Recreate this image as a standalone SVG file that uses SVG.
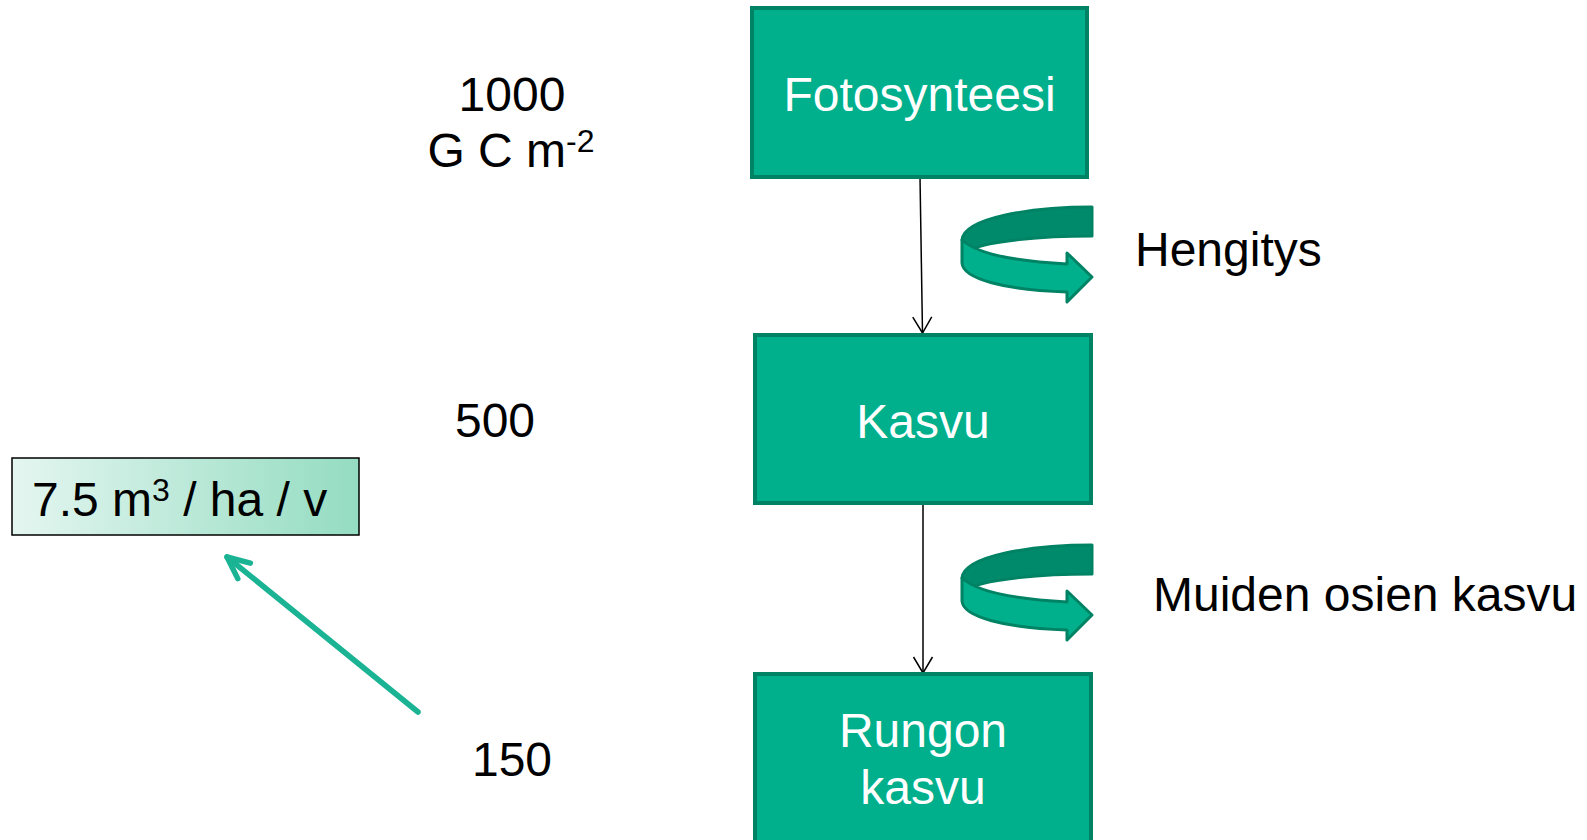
<svg xmlns="http://www.w3.org/2000/svg" width="1587" height="840" viewBox="0 0 1587 840">
<style>
.box{fill:#00b08c;stroke:#008264;stroke-width:4}
.wt{font-family:"Liberation Sans",Arial,sans-serif;font-size:48px;fill:#ffffff;text-anchor:middle}
.bt{font-family:"Liberation Sans",Arial,sans-serif;font-size:48px;fill:#000000}
.mid{text-anchor:middle}
.conn{stroke:#000;stroke-width:1.5;fill:none}
.top{fill:#008a6c;stroke:#008264;stroke-width:3;stroke-linejoin:round}
.front{fill:#00b08c;stroke:#008264;stroke-width:3;stroke-linejoin:round}
</style>
<defs>
<marker id="vhead" markerUnits="userSpaceOnUse" viewBox="-20 -12 22 24" refX="0" refY="0" markerWidth="22" markerHeight="24" orient="auto">
<path d="M-16,-9.5 L0,0 L-16,9.5" fill="none" stroke="#000" stroke-width="1.5"/>
</marker>
<marker id="ghead" markerUnits="userSpaceOnUse" viewBox="-28 -16 32 32" refX="0" refY="0" markerWidth="32" markerHeight="32" orient="auto">
<path d="M-22,-10 L0,0 L-22,10" fill="none" stroke="#1ab394" stroke-width="5.5" stroke-linecap="round" stroke-linejoin="round"/>
</marker>
<linearGradient id="lg" x1="0" y1="0" x2="1" y2="0">
<stop offset="0" stop-color="#e4f6f0"/>
<stop offset="1" stop-color="#94dcc2"/>
</linearGradient>
<g id="circarrow">
<path class="top" d="M1092,207 C1030,207 964,218 962,240 L972,249 C990,241 1040,236 1092,236 Z"/>
<path class="front" d="M962,240 C975,252 1010,261 1067,264 L1067,253 L1092,277 L1067,302 L1067,292 C1005,290 963,279 962,263 Z"/>
</g>
</defs>

<g id="connectors">
<line class="conn" x1="920" y1="177" x2="922.5" y2="333" marker-end="url(#vhead)"/>
<line class="conn" x1="923" y1="503" x2="923" y2="673" marker-end="url(#vhead)"/>
<line x1="418" y1="712" x2="227" y2="557" stroke="#1ab394" stroke-width="5.5" stroke-linecap="round" marker-end="url(#ghead)"/>
</g>

<g id="node-fotosynteesi">
<rect class="box" x="752" y="8" width="335" height="169"/>
<text class="wt" x="919.5" y="111">Fotosynteesi</text>
</g>
<g id="node-kasvu">
<rect class="box" x="755" y="335" width="336" height="168"/>
<text class="wt" x="923" y="438">Kasvu</text>
</g>
<g id="node-rungon">
<rect class="box" x="755" y="674" width="336" height="172"/>
<text class="wt" x="923" y="747">Rungon</text>
<text class="wt" x="923" y="804">kasvu</text>
</g>

<g id="node-hengitys-arrow">
<use href="#circarrow"/>
</g>
<g id="node-muiden-arrow">
<use href="#circarrow" transform="translate(0,338)"/>
</g>

<g id="node-hengitys">
<text class="bt" x="1135" y="266">Hengitys</text>
</g>
<g id="node-muiden">
<text class="bt" x="1153" y="611">Muiden osien kasvu</text>
</g>

<g id="node-1000">
<text class="bt mid" x="512" y="111">1000</text>
<text class="bt mid" x="511" y="167">G C m<tspan font-size="32" dy="-15">-2</tspan></text>
</g>
<g id="node-500">
<text class="bt mid" x="495" y="437">500</text>
</g>
<g id="node-150">
<text class="bt mid" x="512" y="776">150</text>
</g>

<g id="node-volume">
<rect x="12" y="458" width="347" height="77" fill="url(#lg)" stroke="#000" stroke-width="1.5"/>
<text class="bt" x="32" y="516">7.5 m<tspan font-size="32" dy="-15">3</tspan><tspan dy="15"> / ha / v</tspan></text>
</g>
</svg>
